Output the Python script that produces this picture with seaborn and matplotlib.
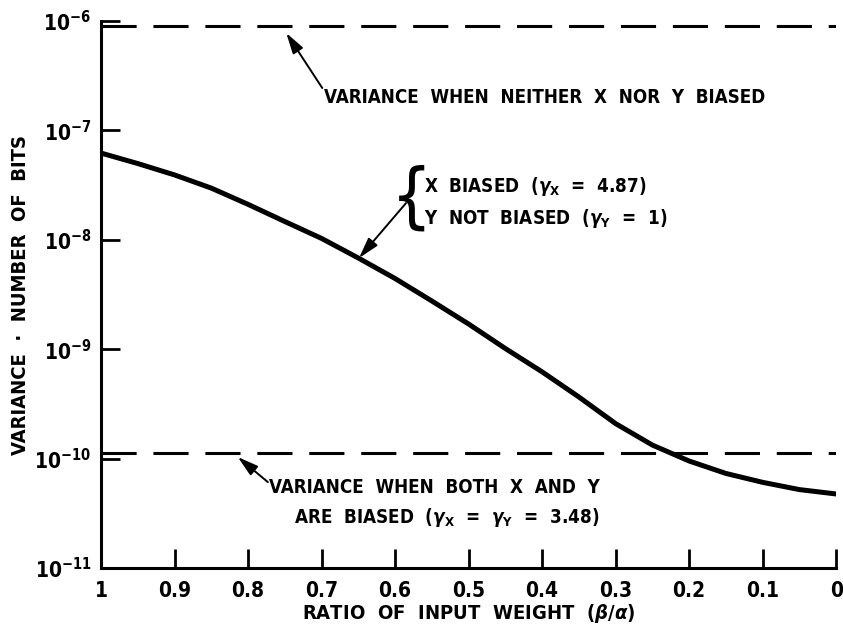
import numpy as np
import pandas as pd
import matplotlib
matplotlib.use("Agg")
import matplotlib.pyplot as plt
from matplotlib import font_manager
import seaborn as sns

# ---- data ----
ratio = [1.00, 0.95, 0.90, 0.85, 0.80, 0.75, 0.70, 0.65, 0.60, 0.55, 0.50,
         0.45, 0.40, 0.35, 0.30, 0.25, 0.20, 0.15, 0.10, 0.05, 0.00]
variance = [6.21e-8, 4.98e-8, 3.92e-8, 2.97e-8, 2.11e-8, 1.47e-8, 1.03e-8,
            6.82e-9, 4.43e-9, 2.76e-9, 1.70e-9, 1.015e-9, 6.21e-10, 3.66e-10,
            2.09e-10, 1.33e-10, 9.51e-11, 7.32e-11, 6.07e-11, 5.21e-11, 4.75e-11]
level_neither = 9.0e-7
level_both = 1.12e-10
x_ticks = [1.0, 0.9, 0.8, 0.7, 0.6, 0.5, 0.4, 0.3, 0.2, 0.1, 0.0]
x_tick_labels = ["1", "0.9", "0.8", "0.7", "0.6", "0.5", "0.4", "0.3", "0.2", "0.1", "0"]
y_ticks = [1e-11, 1e-10, 1e-9, 1e-8, 1e-7, 1e-6]
y_tick_labels = [r"$10^{-11}$", r"$10^{-10}$", r"$10^{-9}$",
                 r"$10^{-8}$", r"$10^{-7}$", r"$10^{-6}$"]

sns.set_style("ticks")

# ---- pick a heavy condensed face if one is installed ----
prefs = ["NotoSans-CondensedBlack", "NotoSans-CondensedExtraBold", "NotoSans-CondensedBold",
         "NotoSans-SemiCondensedBlack", "NotoSans-SemiCondensedExtraBold",
         "DejaVuSansCondensed-Bold", "LiberationSansNarrow-Bold", "Roboto-Black",
         "Roboto-Bold"]
entries = font_manager.fontManager.ttflist
chosen = None
for p in prefs:
    for e in entries:
        if p.lower() in e.fname.replace(" ", "").lower():
            chosen = e
            break
    if chosen is not None:
        break

if chosen is not None:
    fam, wt, st = chosen.name, chosen.weight, chosen.stretch
    condensed = "ondensed" in chosen.fname or "Narrow" in chosen.fname
else:
    fam, wt, st = "DejaVu Sans", "bold", "normal"
    condensed = False

plt.rcParams["font.family"] = [fam, "DejaVu Sans"]
plt.rcParams["font.weight"] = wt
plt.rcParams["font.stretch"] = st
plt.rcParams["axes.labelweight"] = wt
plt.rcParams["mathtext.fontset"] = "custom"
plt.rcParams["mathtext.rm"] = f"{fam}:weight={wt}:stretch={st}"
plt.rcParams["mathtext.bf"] = f"{fam}:weight={wt}:stretch={st}"
plt.rcParams["mathtext.it"] = "DejaVu Sans:italic"
plt.rcParams["mathtext.default"] = "rm"

tick_fs = 15 if condensed else 13
label_fs = 14.5 if condensed else 12.5
ann_fs = 13.5 if condensed else 11.5

fig = plt.figure(figsize=(8.43, 6.37), dpi=100)
ax = fig.add_axes([0.1198, 0.1083, 0.8721, 0.8587])

df = pd.DataFrame({"ratio": ratio, "variance": variance})
sns.lineplot(data=df, x="ratio", y="variance", ax=ax, color="black", lw=3.6,
             estimator=None, sort=False)

dash = (0, (11.5, 5.5))
ax.axhline(level_neither, color="black", lw=2.2, ls=dash)
ax.axhline(level_both, color="black", lw=2.2, ls=dash)

ax.set_yscale("log")
ax.set_xlim(1.0, 0.0)
ax.set_ylim(1e-11, 1e-6)
ax.set_xticks(x_ticks)
ax.set_xticklabels(x_tick_labels)
ax.set_yticks(y_ticks)
ax.set_yticklabels(y_tick_labels)
ax.yaxis.set_minor_locator(matplotlib.ticker.NullLocator())
ax.tick_params(direction="in", length=14, width=2.0, labelsize=tick_fs, colors="black")
ax.tick_params(axis="x", pad=9)
ax.tick_params(axis="y", pad=7)

for s in ["top", "right"]:
    ax.spines[s].set_visible(False)
for s in ["left", "bottom"]:
    ax.spines[s].set_linewidth(2.2)
    ax.spines[s].set_color("black")

ax.set_xlabel(r"RATIO  OF  INPUT  WEIGHT  ($\mathit{\beta/\alpha}$)", fontsize=label_fs,
              fontweight=wt, color="black")
ax.set_ylabel(u"VARIANCE  \u00b7  NUMBER  OF  BITS", fontsize=label_fs,
              fontweight=wt, color="black")
ax.xaxis.set_label_coords(0.5, -0.062)
ax.yaxis.set_label_coords(-0.097, 0.5)

tkw = dict(fontsize=ann_fs, color="black")
arrow = dict(arrowstyle="-|>,head_length=0.7,head_width=0.2", color="black", lw=1.4,
             mutation_scale=18, shrinkA=0, shrinkB=0)

# neither biased
ax.annotate("", xy=(0.748, 7.77e-7), xytext=(0.699, 2.44e-7), arrowprops=arrow)
ax.text(0.696, 2.02e-7, "VARIANCE  WHEN  NEITHER  X  NOR  Y  BIASED",
        ha="left", va="center", **tkw)

# X biased
ax.text(0.578, 2.35e-8, "{", ha="center", va="center", fontsize=52,
        fontweight="light", family="DejaVu Sans", color="black")
ax.text(0.560, 3.04e-8, r"X  BIASED  ($\mathit{\gamma}_{X}$  =  4.87)",
        ha="left", va="center", **tkw)
ax.text(0.560, 1.55e-8, r"Y  NOT  BIASED  ($\mathit{\gamma}_{Y}$  =  1)",
        ha="left", va="center", **tkw)
ax.annotate("", xy=(0.649, 6.82e-9), xytext=(0.585, 2.17e-8), arrowprops=arrow)

# both biased
ax.annotate("", xy=(0.814, 1.035e-10), xytext=(0.773, 6.1e-11), arrowprops=arrow)
ax.text(0.771, 5.5e-11, "VARIANCE  WHEN  BOTH  X  AND  Y",
        ha="left", va="center", **tkw)
ax.text(0.737, 2.92e-11, r"ARE  BIASED  ($\mathit{\gamma}_{X}$  =  $\mathit{\gamma}_{Y}$  =  3.48)",
        ha="left", va="center", **tkw)

fig.savefig("out.png", dpi=100)
